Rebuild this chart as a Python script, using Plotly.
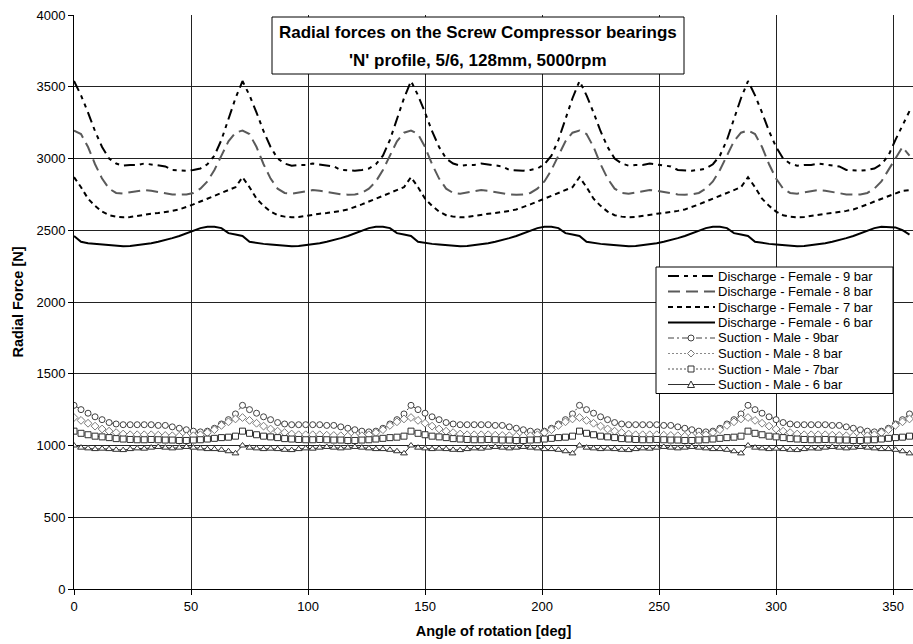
import plotly.graph_objects as go

angle = list(range(0, 360, 3))

discharge_9 = [
    3540, 3440, 3320, 3190, 3080, 3000, 2965, 2950, 2955, 2955, 2965, 2960, 2950, 2945, 2920, 2915, 2915, 2920, 2930, 2960, 3020, 3130, 3280, 3420,
    3540, 3440, 3320, 3190, 3080, 3000, 2965, 2950, 2955, 2955, 2965, 2960, 2950, 2945, 2920, 2915, 2915, 2920, 2930, 2960, 3020, 3130, 3280, 3420,
    3540, 3440, 3320, 3190, 3080, 3000, 2965, 2950, 2955, 2955, 2965, 2960, 2950, 2945, 2920, 2915, 2915, 2920, 2930, 2960, 3020, 3130, 3280, 3420,
    3540, 3440, 3320, 3190, 3080, 3000, 2965, 2950, 2955, 2955, 2965, 2960, 2950, 2945, 2920, 2915, 2915, 2920, 2930, 2960, 3020, 3130, 3280, 3420,
    3540, 3440, 3320, 3190, 3080, 3000, 2965, 2950, 2955, 2955, 2965, 2960, 2950, 2945, 2920, 2915, 2915, 2920, 2930, 2960, 3020, 3130, 3230, 3330,
]
discharge_8 = [
    3195, 3170, 3080, 2960, 2860, 2790, 2760, 2755, 2765, 2775, 2780, 2775, 2765, 2755, 2750, 2748, 2750, 2760, 2790, 2840, 2920, 3020, 3120, 3180,
    3195, 3170, 3080, 2960, 2860, 2790, 2760, 2755, 2765, 2775, 2780, 2775, 2765, 2755, 2750, 2748, 2750, 2760, 2790, 2840, 2920, 3020, 3120, 3180,
    3195, 3170, 3080, 2960, 2860, 2790, 2760, 2755, 2765, 2775, 2780, 2775, 2765, 2755, 2750, 2748, 2750, 2760, 2790, 2840, 2920, 3020, 3120, 3180,
    3195, 3170, 3080, 2960, 2860, 2790, 2760, 2755, 2765, 2775, 2780, 2775, 2765, 2755, 2750, 2748, 2750, 2760, 2790, 2840, 2920, 3020, 3120, 3180,
    3195, 3170, 3080, 2960, 2860, 2790, 2760, 2755, 2765, 2775, 2780, 2775, 2765, 2755, 2750, 2748, 2750, 2760, 2790, 2840, 2920, 3000, 3080, 3020,
]
discharge_7 = [
    2870, 2800, 2720, 2670, 2630, 2605, 2595, 2590, 2592, 2600, 2610, 2615, 2620, 2625, 2635, 2645, 2660, 2680, 2700, 2720, 2740, 2760, 2780, 2800,
    2870, 2800, 2720, 2670, 2630, 2605, 2595, 2590, 2592, 2600, 2610, 2615, 2620, 2625, 2635, 2645, 2660, 2680, 2700, 2720, 2740, 2760, 2780, 2800,
    2870, 2800, 2720, 2670, 2630, 2605, 2595, 2590, 2592, 2600, 2610, 2615, 2620, 2625, 2635, 2645, 2660, 2680, 2700, 2720, 2740, 2760, 2780, 2800,
    2870, 2800, 2720, 2670, 2630, 2605, 2595, 2590, 2592, 2600, 2610, 2615, 2620, 2625, 2635, 2645, 2660, 2680, 2700, 2720, 2740, 2760, 2780, 2800,
    2870, 2800, 2720, 2670, 2630, 2605, 2595, 2590, 2592, 2600, 2610, 2615, 2620, 2625, 2635, 2645, 2660, 2680, 2700, 2720, 2740, 2760, 2775, 2780,
]
discharge_6 = [
    2460, 2420, 2410, 2405, 2400, 2395, 2390, 2388, 2390, 2395, 2400, 2410, 2420, 2430, 2445, 2460, 2480, 2500, 2515, 2525, 2525, 2515, 2480, 2470,
    2460, 2420, 2410, 2405, 2400, 2395, 2390, 2388, 2390, 2395, 2400, 2410, 2420, 2430, 2445, 2460, 2480, 2500, 2515, 2525, 2525, 2515, 2480, 2470,
    2460, 2420, 2410, 2405, 2400, 2395, 2390, 2388, 2390, 2395, 2400, 2410, 2420, 2430, 2445, 2460, 2480, 2500, 2515, 2525, 2525, 2515, 2480, 2470,
    2460, 2420, 2410, 2405, 2400, 2395, 2390, 2388, 2390, 2395, 2400, 2410, 2420, 2430, 2445, 2460, 2480, 2500, 2515, 2525, 2525, 2515, 2480, 2470,
    2460, 2420, 2410, 2405, 2400, 2395, 2390, 2388, 2390, 2395, 2400, 2410, 2420, 2430, 2445, 2460, 2480, 2500, 2515, 2525, 2525, 2520, 2500, 2470,
]
suction_9 = [
    1280, 1250, 1225, 1200, 1180, 1160, 1150, 1145, 1145, 1145, 1145, 1145, 1140, 1140, 1130, 1120, 1110, 1100, 1095, 1100, 1120, 1150, 1180, 1220,
    1280, 1250, 1225, 1200, 1180, 1160, 1150, 1145, 1145, 1145, 1145, 1145, 1140, 1140, 1130, 1120, 1110, 1100, 1095, 1100, 1120, 1150, 1180, 1220,
    1280, 1250, 1225, 1200, 1180, 1160, 1150, 1145, 1145, 1145, 1145, 1145, 1140, 1140, 1130, 1120, 1110, 1100, 1095, 1100, 1120, 1150, 1180, 1220,
    1280, 1250, 1225, 1200, 1180, 1160, 1150, 1145, 1145, 1145, 1145, 1145, 1140, 1140, 1130, 1120, 1110, 1100, 1095, 1100, 1120, 1150, 1180, 1220,
    1280, 1250, 1225, 1200, 1180, 1160, 1150, 1145, 1145, 1145, 1145, 1145, 1140, 1140, 1130, 1120, 1110, 1100, 1095, 1100, 1120, 1150, 1180, 1220,
]
suction_8 = [
    1195, 1175, 1155, 1135, 1115, 1100, 1090, 1080, 1075, 1075, 1075, 1075, 1072, 1070, 1068, 1065, 1065, 1068, 1075, 1090, 1110, 1140, 1165, 1185,
    1195, 1175, 1155, 1135, 1115, 1100, 1090, 1080, 1075, 1075, 1075, 1075, 1072, 1070, 1068, 1065, 1065, 1068, 1075, 1090, 1110, 1140, 1165, 1185,
    1195, 1175, 1155, 1135, 1115, 1100, 1090, 1080, 1075, 1075, 1075, 1075, 1072, 1070, 1068, 1065, 1065, 1068, 1075, 1090, 1110, 1140, 1165, 1185,
    1195, 1175, 1155, 1135, 1115, 1100, 1090, 1080, 1075, 1075, 1075, 1075, 1072, 1070, 1068, 1065, 1065, 1068, 1075, 1090, 1110, 1140, 1165, 1185,
    1195, 1175, 1155, 1135, 1115, 1100, 1090, 1080, 1075, 1075, 1075, 1075, 1072, 1070, 1068, 1065, 1065, 1068, 1075, 1090, 1110, 1140, 1165, 1185,
]
suction_7 = [
    1100, 1085, 1075, 1065, 1060, 1055, 1048, 1045, 1042, 1040, 1040, 1042, 1040, 1038, 1038, 1035, 1035, 1038, 1040, 1045, 1050, 1055, 1058, 1065,
    1100, 1085, 1075, 1065, 1060, 1055, 1048, 1045, 1042, 1040, 1040, 1042, 1040, 1038, 1038, 1035, 1035, 1038, 1040, 1045, 1050, 1055, 1058, 1065,
    1100, 1085, 1075, 1065, 1060, 1055, 1048, 1045, 1042, 1040, 1040, 1042, 1040, 1038, 1038, 1035, 1035, 1038, 1040, 1045, 1050, 1055, 1058, 1065,
    1100, 1085, 1075, 1065, 1060, 1055, 1048, 1045, 1042, 1040, 1040, 1042, 1040, 1038, 1038, 1035, 1035, 1038, 1040, 1045, 1050, 1055, 1058, 1065,
    1100, 1085, 1075, 1065, 1060, 1055, 1048, 1045, 1042, 1040, 1040, 1042, 1040, 1038, 1038, 1035, 1035, 1038, 1040, 1045, 1050, 1055, 1058, 1065,
]
suction_6 = [
    1000, 985, 980, 975, 978, 975, 970, 968, 975, 980, 978, 985, 990, 985, 980, 985, 990, 985, 980, 975, 975, 970, 960, 945,
    1000, 985, 980, 975, 978, 975, 970, 968, 975, 980, 978, 985, 990, 985, 980, 985, 990, 985, 980, 975, 975, 970, 960, 945,
    1000, 985, 980, 975, 978, 975, 970, 968, 975, 980, 978, 985, 990, 985, 980, 985, 990, 985, 980, 975, 975, 970, 960, 945,
    1000, 985, 980, 975, 978, 975, 970, 968, 975, 980, 978, 985, 990, 985, 980, 985, 990, 985, 980, 975, 975, 970, 960, 945,
    1000, 985, 980, 975, 978, 975, 970, 968, 975, 980, 978, 985, 990, 985, 980, 985, 990, 985, 980, 975, 975, 970, 960, 945,
]

names = [
    "Discharge - Female - 9 bar",
    "Discharge - Female - 8 bar",
    "Discharge - Female - 7 bar",
    "Discharge - Female - 6 bar",
    "Suction - Male - 9bar",
    "Suction - Male - 8 bar",
    "Suction - Male - 7bar",
    "Suction - Male - 6 bar",
]
x_ticks = [0, 50, 100, 150, 200, 250, 300, 350]
y_ticks = [0, 500, 1000, 1500, 2000, 2500, 3000, 3500, 4000]
title_lines = ["Radial forces on the Screw Compressor bearings", "'N' profile, 5/6, 128mm, 5000rpm"]

FONT = "Arial, Liberation Sans, sans-serif"

# styles: (line color, width, dash, marker symbol, marker color)
styles = [
    ("#000000", 2, "11px,5px,4px,5px,4px,5px", None, None),
    ("#5a5a5a", 2, "12px,6px", None, None),
    ("#000000", 2, "5px,4px", None, None),
    ("#000000", 2, "solid", None, None),
    ("#404040", 1, "6px,3px,2px,3px", "circle", "#404040"),
    ("#8a8a8a", 1, "2px,2px", "diamond", "#7a7a7a"),
    ("#505050", 1, "2px,2px", "square", "#303030"),
    ("#303030", 1, "solid", "triangle-up", "#303030"),
]
series = [discharge_9, discharge_8, discharge_7, discharge_6, suction_9, suction_8, suction_7, suction_6]

fig = go.Figure()
for nm, ys, (lc, lw, dash, sym, mc) in zip(names, series, styles):
    if sym is None:
        fig.add_trace(go.Scatter(x=angle, y=ys, name=nm, mode="lines", showlegend=False,
                                 line=dict(color=lc, width=lw, dash=dash)))
    else:
        fig.add_trace(go.Scatter(x=angle, y=ys, name=nm, mode="lines+markers", showlegend=False,
                                 line=dict(color=lc, width=lw, dash=dash),
                                 marker=dict(symbol=sym, size=6, color="white",
                                             line=dict(width=1, color=mc))))

# ---- layout helpers (pixel -> paper) ----
PL, PR, PT, PB = 74, 913, 15, 589
def px(x):
    return (x - PL) / (PR - PL)
def py(y):
    return (PB - y) / (PB - PT)

shapes = []
annotations = []

# Title box
shapes.append(dict(type="rect", xref="paper", yref="paper", layer="above",
                   x0=px(272), x1=px(684), y0=py(74), y1=py(17),
                   line=dict(color="black", width=1), fillcolor="white"))
for txt, yy in zip(title_lines, [33, 60]):
    annotations.append(dict(xref="paper", yref="paper", x=px(478), y=py(yy),
                            xanchor="center", yanchor="middle", showarrow=False,
                            text="<b>" + txt + "</b>",
                            font=dict(family=FONT, size=17, color="black")))

# Legend box
row0, rowh = 276, 15.5
shapes.append(dict(type="rect", xref="paper", yref="paper", layer="above",
                   x0=px(656), x1=px(893), y0=py(row0 + rowh * 7 + 9), y1=py(row0 - 9),
                   line=dict(color="black", width=1), fillcolor="white"))
sx0, sx1, mx = 668, 715, 691
for i, (nm, (lc, lw, dash, sym, mc)) in enumerate(zip(names, styles)):
    yy = row0 + rowh * i
    shapes.append(dict(type="line", xref="paper", yref="paper", layer="above",
                       x0=px(sx0), x1=px(sx1), y0=py(yy), y1=py(yy),
                       line=dict(color=lc, width=lw, dash=dash)))
    r = 3
    if sym == "circle":
        shapes.append(dict(type="circle", xref="paper", yref="paper", layer="above",
                           x0=px(mx - r), x1=px(mx + r), y0=py(yy + r), y1=py(yy - r),
                           line=dict(color=mc, width=1), fillcolor="white"))
    elif sym == "square":
        shapes.append(dict(type="rect", xref="paper", yref="paper", layer="above",
                           x0=px(mx - r), x1=px(mx + r), y0=py(yy + r), y1=py(yy - r),
                           line=dict(color=mc, width=1), fillcolor="white"))
    elif sym == "diamond":
        path = "M {a},{b} L {c},{d} L {a},{e} L {f},{d} Z".format(
            a=px(mx), b=py(yy - 3.5), c=px(mx + 3.5), d=py(yy), e=py(yy + 3.5), f=px(mx - 3.5))
        shapes.append(dict(type="path", xref="paper", yref="paper", layer="above", path=path,
                           line=dict(color=mc, width=1), fillcolor="white"))
    elif sym == "triangle-up":
        path = "M {a},{b} L {c},{d} L {e},{d} Z".format(
            a=px(mx), b=py(yy - 3.5), c=px(mx + 3.5), d=py(yy + 3), e=px(mx - 3.5))
        shapes.append(dict(type="path", xref="paper", yref="paper", layer="above", path=path,
                           line=dict(color=mc, width=1), fillcolor="white"))
    annotations.append(dict(xref="paper", yref="paper", x=px(717), y=py(yy),
                            xanchor="left", yanchor="middle", showarrow=False, borderpad=0,
                            text=nm, font=dict(family=FONT, size=13, color="black")))

fig.update_layout(
    width=913, height=644,
    margin=dict(l=PL, r=913 - PR, t=PT, b=644 - PB, pad=0),
    paper_bgcolor="white", plot_bgcolor="white",
    font=dict(family=FONT, size=13, color="black"),
    showlegend=False,
    xaxis=dict(range=[0, 358.5], tickvals=x_ticks, ticks="outside", ticklen=5, tickcolor="black",
               showline=True, linecolor="black", linewidth=1, mirror=False,
               showgrid=True, gridcolor="#222222", gridwidth=1, zeroline=False,
               tickfont=dict(family=FONT, size=13),
               title=dict(text="<b>Angle of rotation [deg]</b>", font=dict(family=FONT, size=14.5), standoff=13)),
    yaxis=dict(range=[0, 4000], tickvals=y_ticks, ticks="outside", ticklen=5, tickcolor="black",
               showline=True, linecolor="black", linewidth=1,
               showgrid=True, gridcolor="#222222", gridwidth=1, zeroline=False,
               tickfont=dict(family=FONT, size=13),
               title=dict(text="<b>Radial Force [N]</b>", font=dict(family=FONT, size=14.5), standoff=9)),
    shapes=shapes,
    annotations=annotations,
)

fig.write_html("out.html")
